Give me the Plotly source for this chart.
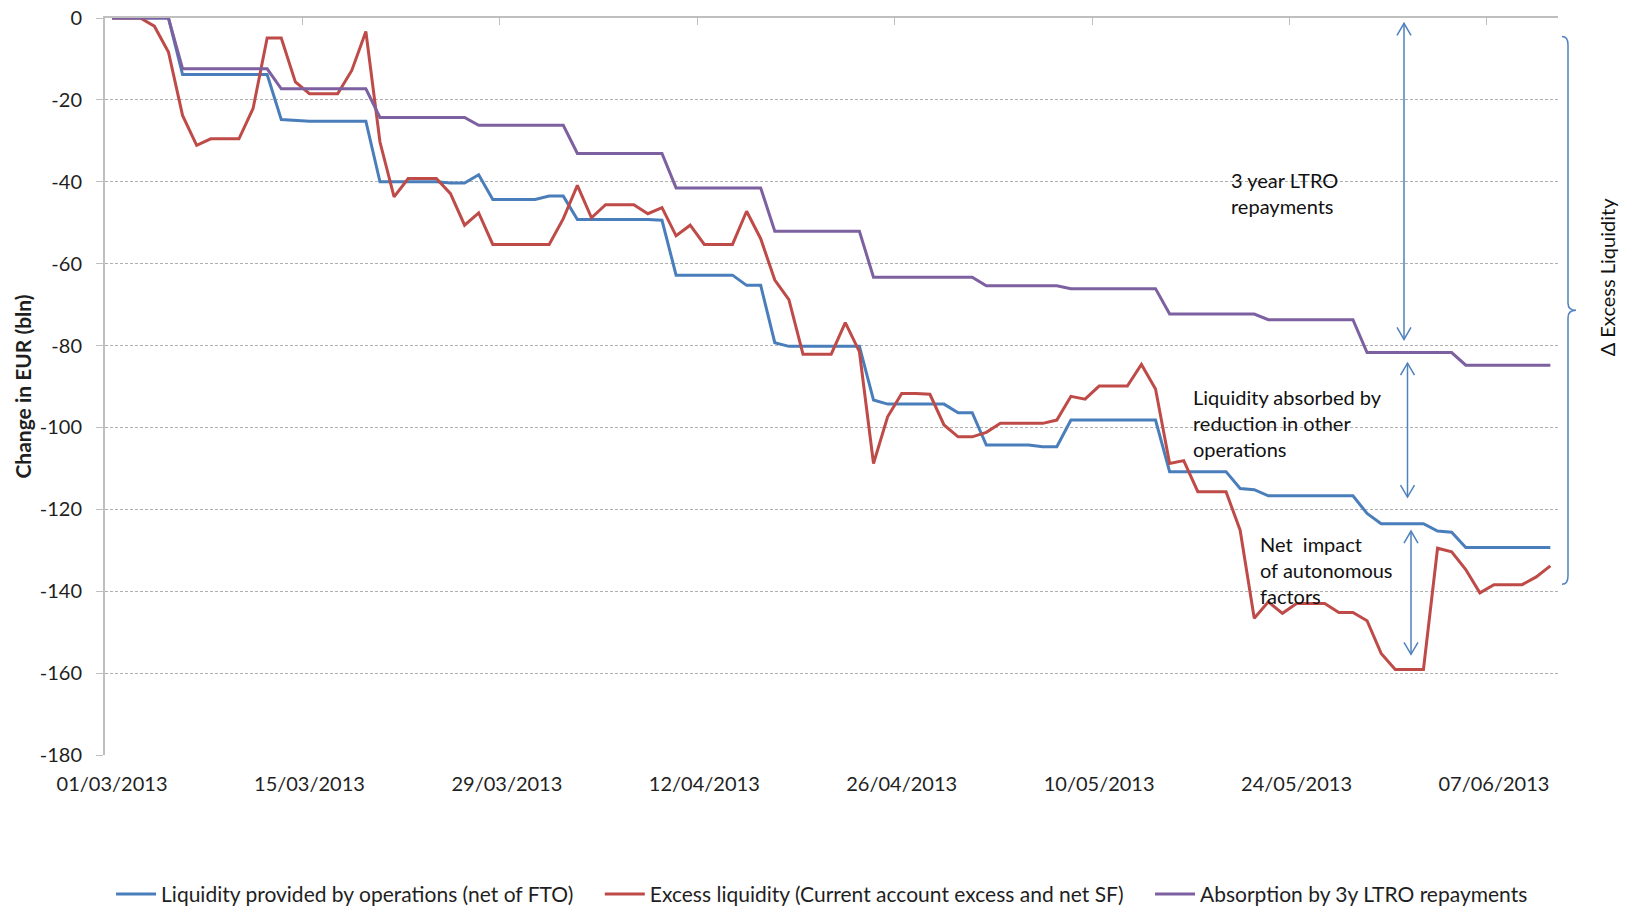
import pandas as pd
import plotly.graph_objects as go

# Daily observation dates, 01/03/2013 - 11/06/2013
dates = pd.date_range("2013-03-01", "2013-06-11", freq="D")

# Cumulative change since 01/03/2013, EUR bln
liquidity_ops = [
    0, 0, 0, 0, 0,
    -13.8, -13.8, -13.8, -13.8, -13.8, -13.8, -13.8,
    -24.8, -25.0, -25.2, -25.2, -25.2, -25.2, -25.2,
    -40.0, -40.0, -40.0, -40.0, -40.0, -40.3, -40.3,
    -38.3, -44.3, -44.3, -44.3, -44.3, -43.5, -43.5,
    -49.2, -49.2, -49.2, -49.2, -49.2, -49.2, -49.4,
    -62.8, -62.8, -62.8, -62.8, -62.8, -65.3, -65.3,
    -79.3, -80.2, -80.2, -80.2, -80.2, -80.2, -80.2,
    -93.3, -94.3, -94.3, -94.3, -94.3, -94.3, -96.4, -96.4,
    -104.3, -104.3, -104.3, -104.3, -104.7, -104.7,
    -98.2, -98.2, -98.2, -98.2, -98.2, -98.2, -98.2,
    -110.8, -110.8, -110.8, -110.8, -110.8, -114.9, -115.2,
    -116.7, -116.7, -116.7, -116.7, -116.7, -116.7, -116.7,
    -121.0, -123.5, -123.5, -123.5, -123.5, -125.3, -125.6,
    -129.3, -129.3, -129.3, -129.3, -129.3, -129.3, -129.3,
]

excess_liquidity = [
    0, 0, 0, -2.0, -8.3,
    -23.8, -31.1, -29.5, -29.5, -29.5, -22.1, -4.9,
    -4.9, -15.6, -18.5, -18.5, -18.5, -12.8, -3.3,
    -30.3, -43.7, -39.2, -39.2, -39.2, -42.9, -50.6,
    -47.6, -55.3, -55.3, -55.3, -55.3, -55.3, -49.0,
    -40.9, -48.8, -45.6, -45.6, -45.6, -47.8, -46.3,
    -53.2, -50.6, -55.3, -55.3, -55.3, -47.2, -53.9,
    -64.0, -68.8, -82.1, -82.1, -82.1, -74.4, -81.5,
    -108.8, -97.4, -91.7, -91.7, -91.9, -99.4, -102.3, -102.3,
    -101.2, -99.0, -99.0, -99.0, -99.0, -98.2,
    -92.4, -93.1, -89.9, -89.9, -89.9, -84.6, -90.6,
    -108.8, -108.1, -115.7, -115.7, -115.7, -125.1, -146.6,
    -142.6, -145.4, -143.0, -143.0, -143.0, -145.2, -145.2,
    -147.2, -155.2, -159.1, -159.1, -159.1, -129.5, -130.4,
    -134.7, -140.4, -138.4, -138.4, -138.4, -136.5, -133.8,
]

ltro_repayments = [
    0, 0, 0, 0, 0,
    -12.4, -12.4, -12.4, -12.4, -12.4, -12.4, -12.4,
    -17.3, -17.3, -17.3, -17.3, -17.3, -17.3, -17.3,
    -24.3, -24.3, -24.3, -24.3, -24.3, -24.3, -24.3,
    -26.2, -26.2, -26.2, -26.2, -26.2, -26.2, -26.2,
    -33.1, -33.1, -33.1, -33.1, -33.1, -33.1, -33.1,
    -41.5, -41.5, -41.5, -41.5, -41.5, -41.5, -41.5,
    -52.1, -52.1, -52.1, -52.1, -52.1, -52.1, -52.1,
    -63.3, -63.3, -63.3, -63.3, -63.3, -63.3, -63.3, -63.3,
    -65.4, -65.4, -65.4, -65.4, -65.4, -65.4,
    -66.1, -66.1, -66.1, -66.1, -66.1, -66.1, -66.1,
    -72.3, -72.3, -72.3, -72.3, -72.3, -72.3, -72.3,
    -73.7, -73.7, -73.7, -73.7, -73.7, -73.7, -73.7,
    -81.7, -81.7, -81.7, -81.7, -81.7, -81.7, -81.7,
    -84.8, -84.8, -84.8, -84.8, -84.8, -84.8, -84.8,
]

series_names = [
    "Liquidity provided by operations (net of FTO)",
    "Excess liquidity (Current account excess and net SF)",
    "Absorption by 3y LTRO repayments",
]
series_colors = ["#4A7EBB", "#BE4B48", "#7D60A0"]

tick_dates = ["2013-03-01", "2013-03-15", "2013-03-29", "2013-04-12",
              "2013-04-26", "2013-05-10", "2013-05-24", "2013-06-07"]
# day-boundary tick marks on the top axis line
boundary_ticks = ["2013-03-14 12:00", "2013-03-28 12:00", "2013-04-11 12:00",
                  "2013-04-25 12:00", "2013-05-09 12:00", "2013-05-23 12:00",
                  "2013-06-06 12:00"]
x_range = ["2013-02-28 12:00", "2013-06-11 13:00"]

y_ticks = [0, -20, -40, -60, -80, -100, -120, -140, -160, -180]
y_tick_labels = ["0", "-20", "-40", "-60", "-80", "-100", "-120", "-140",
                 "-160", "-180"]

FONT = "Lato"
TXT = "#1f1f1f"
AXIS_GREY = "#BFBFBF"
ARROW = "#4F81BD"
PAD = "\u00a0" * 4  # spacing between legend entries

fig = go.Figure()
for i, (name, vals, col) in enumerate(zip(
        series_names, [liquidity_ops, excess_liquidity, ltro_repayments],
        series_colors)):
    label = name + (PAD if i < len(series_names) - 1 else "")
    fig.add_trace(go.Scatter(x=dates, y=vals, mode="lines", name=label,
                             line=dict(color=col, width=3)))

fig.update_layout(
    width=1627, height=911,
    margin=dict(l=105, r=69, t=18, b=156, autoexpand=False),
    paper_bgcolor="white", plot_bgcolor="white",
    font=dict(family=FONT, size=20, color=TXT),
    showlegend=True,
    legend=dict(orientation="h", x=0.4935, xanchor="center", y=-0.189,
                yanchor="middle", font=dict(size=21, color=TXT),
                itemwidth=40, tracegroupgap=0),
    xaxis=dict(type="date", range=x_range, tickvals=tick_dates,
               tickformat="%d/%m/%Y", showgrid=False, showline=False,
               zeroline=False, ticks="", ticklabelstandoff=15,
               automargin=False, tickfont=dict(size=20, color=TXT)),
    xaxis2=dict(type="date", range=x_range, overlaying="x", side="top",
                anchor="y", showline=True, linecolor=AXIS_GREY, linewidth=2,
                tickvals=boundary_ticks, ticks="inside", ticklen=7,
                tickcolor=AXIS_GREY, showticklabels=False, showgrid=False,
                zeroline=False, automargin=False),
    yaxis=dict(range=[-180, 0], tickvals=y_ticks, ticktext=y_tick_labels,
               showgrid=True, gridcolor="#B0B0B0", gridwidth=1,
               griddash="3px,2px", zeroline=False, showline=True,
               linecolor=AXIS_GREY, linewidth=2, ticks="outside", ticklen=7,
               tickcolor=AXIS_GREY, tickfont=dict(size=20, color=TXT),
               ticklabelstandoff=10, automargin=False,
               title=dict(text="<b>Change in EUR (bln)</b>",
                          font=dict(size=21, color=TXT), standoff=2)),
)

# empty trace so the top axis is drawn
fig.add_trace(go.Scatter(x=[dates[0]], y=[None], xaxis="x2", yaxis="y",
                         showlegend=False, hoverinfo="skip"))


def px_x(px):
    """Horizontal pixel position -> paper fraction."""
    return (px - 105) / 1453.0


shapes = []
arrows = [  # (x pixel, top value, bottom value)
    (1404, -1.3, -78.5),
    (1407.5, -84.3, -117.0),
    (1411, -125.3, -155.4),
]
for xp, ytop, ybot in arrows:
    xa = px_x(xp)
    shapes.append(dict(type="line", xref="paper", yref="y", x0=xa, x1=xa,
                       y0=ytop, y1=ybot, line=dict(color=ARROW, width=1.5)))
    for yv, sgn in ((ytop, -1), (ybot, 1)):
        shapes.append(dict(type="path", xref="paper", yref="y",
                           xsizemode="pixel", ysizemode="pixel",
                           xanchor=xa, yanchor=yv,
                           path=f"M -7,{sgn*12} L 0,0 L 7,{sgn*12}",
                           line=dict(color=ARROW, width=1.5)))

# right-hand brace spanning the change in excess liquidity
bx, bl, br = px_x(1568), px_x(1562), px_x(1576)
brace = (f"M {bl},-4.5 Q {bx},-4.5 {bx},-6.5 L {bx},-69.6 "
         f"Q {bx},-71.4 {br},-71.4 Q {bx},-71.4 {bx},-73.2 "
         f"L {bx},-136.3 Q {bx},-138.3 {bl},-138.3")
shapes.append(dict(type="path", xref="paper", yref="y", path=brace,
                   line=dict(color=ARROW, width=1.5)))
fig.update_layout(shapes=shapes)

notes = [
    (1229, -42.8, "3 year LTRO<br>repayments"),
    (1191, -98.9, "Liquidity absorbed by<br>reduction in other<br>operations"),
    (1258, -134.7, "Net  impact<br>of autonomous<br>factors"),
]
for xp, yv, txt in notes:
    fig.add_annotation(x=px_x(xp), xref="paper", y=yv, yref="y", text=txt,
                       showarrow=False, xanchor="left", yanchor="middle",
                       align="left", font=dict(size=20, color="#111111"))

fig.add_annotation(x=px_x(1607), xref="paper", y=-63.1, yref="y",
                   text="\u0394 Excess Liquidity", textangle=-90,
                   showarrow=False, xanchor="center", yanchor="middle",
                   font=dict(size=20, color="#111111"))

fig.write_html("out.html")
